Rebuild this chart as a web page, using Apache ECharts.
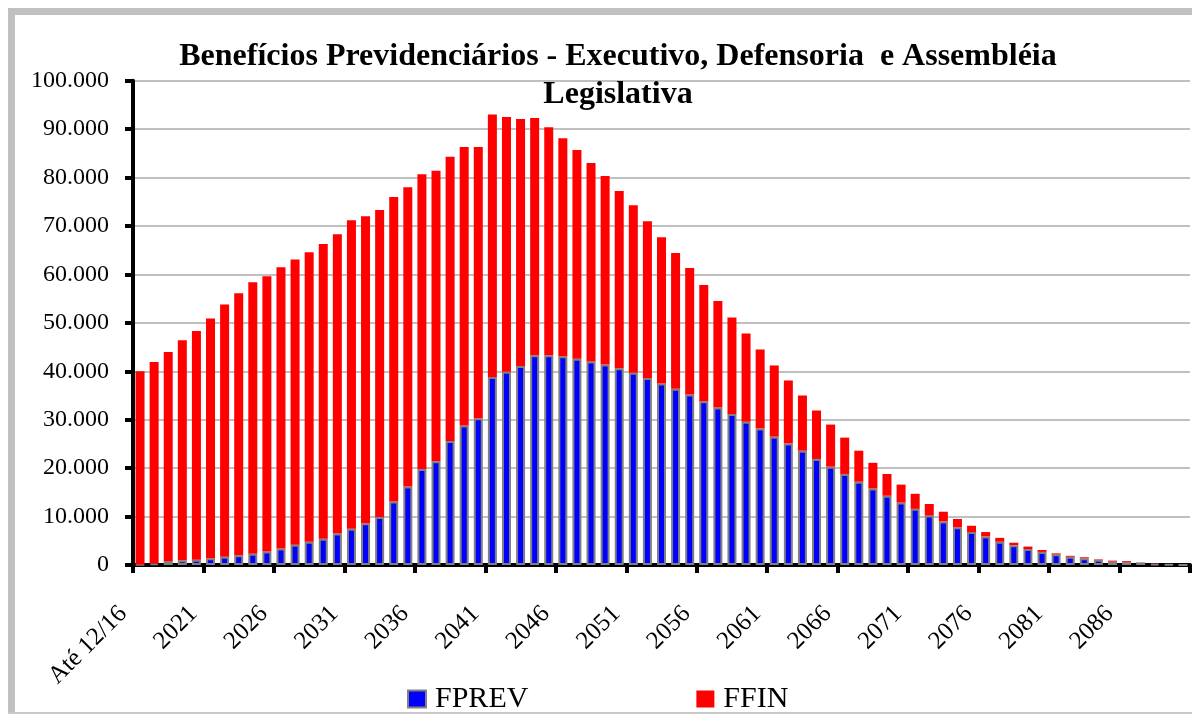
<!DOCTYPE html>
<html>
<head>
<meta charset="utf-8">
<script src="https://cdn.jsdelivr.net/npm/echarts@6/dist/echarts.min.js"></script>
<style>
html,body{margin:0;padding:0;background:#fff;}
#chart{width:1192px;height:715px;}
</style>
</head>
<body>
<div id="chart"></div>
<script>
var anos = ['Até 12/16',
	'2017','2018','2019','2020','2021','2022','2023','2024','2025','2026',
	'2027','2028','2029','2030','2031','2032','2033','2034','2035','2036',
	'2037','2038','2039','2040','2041','2042','2043','2044','2045','2046',
	'2047','2048','2049','2050','2051','2052','2053','2054','2055','2056',
	'2057','2058','2059','2060','2061','2062','2063','2064','2065','2066',
	'2067','2068','2069','2070','2071','2072','2073','2074','2075','2076',
	'2077','2078','2079','2080','2081','2082','2083','2084','2085','2086',
	'2087','2088','2089','2090'];
//FPREV (azul)
var fprev = [100,300,800,1000,1100,1400,1700,2000,2300,2800,
	3400,4200,4800,5400,6500,7500,8600,9900,13100,16200,
	19800,21400,25600,28800,30300,38800,39900,41100,43300,43300,
	43100,42600,42000,41400,40600,39700,38600,37500,36400,35200,
	33800,32500,31200,29600,28200,26500,25100,23600,21900,20300,
	18800,17200,15800,14300,12900,11600,10200,9000,7800,6800,
	5900,4800,4100,3300,2700,2200,1700,1400,1100,700,
	600,500,250,100,0];
//FFIN (vermelho)
var ffin = [39900,41600,43200,45400,47200,49500,52100,54100,56100,56800,
	58100,58900,59800,60900,61800,63700,63400,63400,62900,61800,
	60900,60000,58700,57500,56000,54200,52600,51000,49000,47100,
	45000,43100,41000,38900,36600,34600,32400,30200,28000,26100,
	24000,22000,19900,18200,16300,14700,13000,11400,10000,8700,
	7500,6400,5300,4500,3700,3100,2400,2000,1700,1300,
	900,800,500,500,400,200,200,200,100,200,
	200,50,50,0,0];

var fonte = '"Liberation Serif", "Times New Roman", serif';

function milhar(v){
	return String(v).replace(/\B(?=(\d{3})+(?!\d))/g, '.');
}

var chart = echarts.init(document.getElementById('chart'));
chart.setOption({
	animation : false,
	backgroundColor : '#fff',
	title : {
		text : 'Benefícios Previdenciários - Executivo, Defensoria  e Assembléia\nLegislativa',
		left : 613,
		top : 33,
		textAlign : 'center',
		textStyle : {
			fontFamily : fonte,
			fontWeight : 'bold',
			fontSize : 32,
			lineHeight : 38,
			color : '#000'
		}
	},
	legend : {
		left : 402,
		top : 679,
		itemWidth : 18,
		itemHeight : 17,
		itemGap : 168,
		icon : 'rect',
		textStyle : {
			fontFamily : fonte,
			fontSize : 30,
			color : '#000',
			padding : [0,0,0,4]
		},
		data : ['FPREV','FFIN']
	},
	graphic : [
		{type:'rect', shape:{x:8, y:8, width:7, height:705}, style:{fill:'#c0c0c0'}, silent:true},
		{type:'rect', shape:{x:8, y:8, width:1184, height:7}, style:{fill:'#c0c0c0'}, silent:true},
		{type:'rect', shape:{x:8, y:712, width:1184, height:2}, style:{fill:'#c8c8c8'}, silent:true}
	],
	grid : {
		left : 133,
		right : 2,
		top : 80.7,
		bottom : 150
	},
	xAxis : [
		{
			type : 'category',
			data : anos,
			boundaryGap : true,
			axisLine : {
				lineStyle : { color:'#000', width:4 }
			},
			axisTick : {
				show : true,
				interval : 4,
				length : 8,
				lineStyle : { color:'#000', width:4 }
			},
			axisLabel : {
				interval : 4,
				rotate : 45,
				margin : 28,
				fontFamily : fonte,
				fontSize : 25,
				color : '#000',
				padding : [0,24,0,0]
			},
			splitLine : { show:false }
		}
	],
	yAxis : [
		{
			type : 'value',
			min : 0,
			max : 100000,
			interval : 10000,
			axisLine : {
				show : true,
				lineStyle : { color:'#000', width:4 }
			},
			axisTick : {
				show : true,
				length : 8,
				lineStyle : { color:'#000', width:4 }
			},
			axisLabel : {
				margin : 24,
				fontFamily : fonte,
				fontSize : 24,
				color : '#000',
				formatter : function(v){ return milhar(v); }
			},
			splitLine : {
				lineStyle : { color:'#c0c0c0', width:2 }
			}
		}
	],
	series : [
		{
			name : 'FPREV',
			type : 'bar',
			stack : 'total',
			barWidth : 9,
			data : fprev,
			itemStyle : {
				color : '#0000ff',
				borderColor : '#808080',
				borderWidth : 2
			}
		},
		{
			name : 'FFIN',
			type : 'bar',
			stack : 'total',
			barWidth : 9,
			data : ffin,
			itemStyle : {
				color : '#ff0000'
			}
		}
	]
});
</script>
</body>
</html>
